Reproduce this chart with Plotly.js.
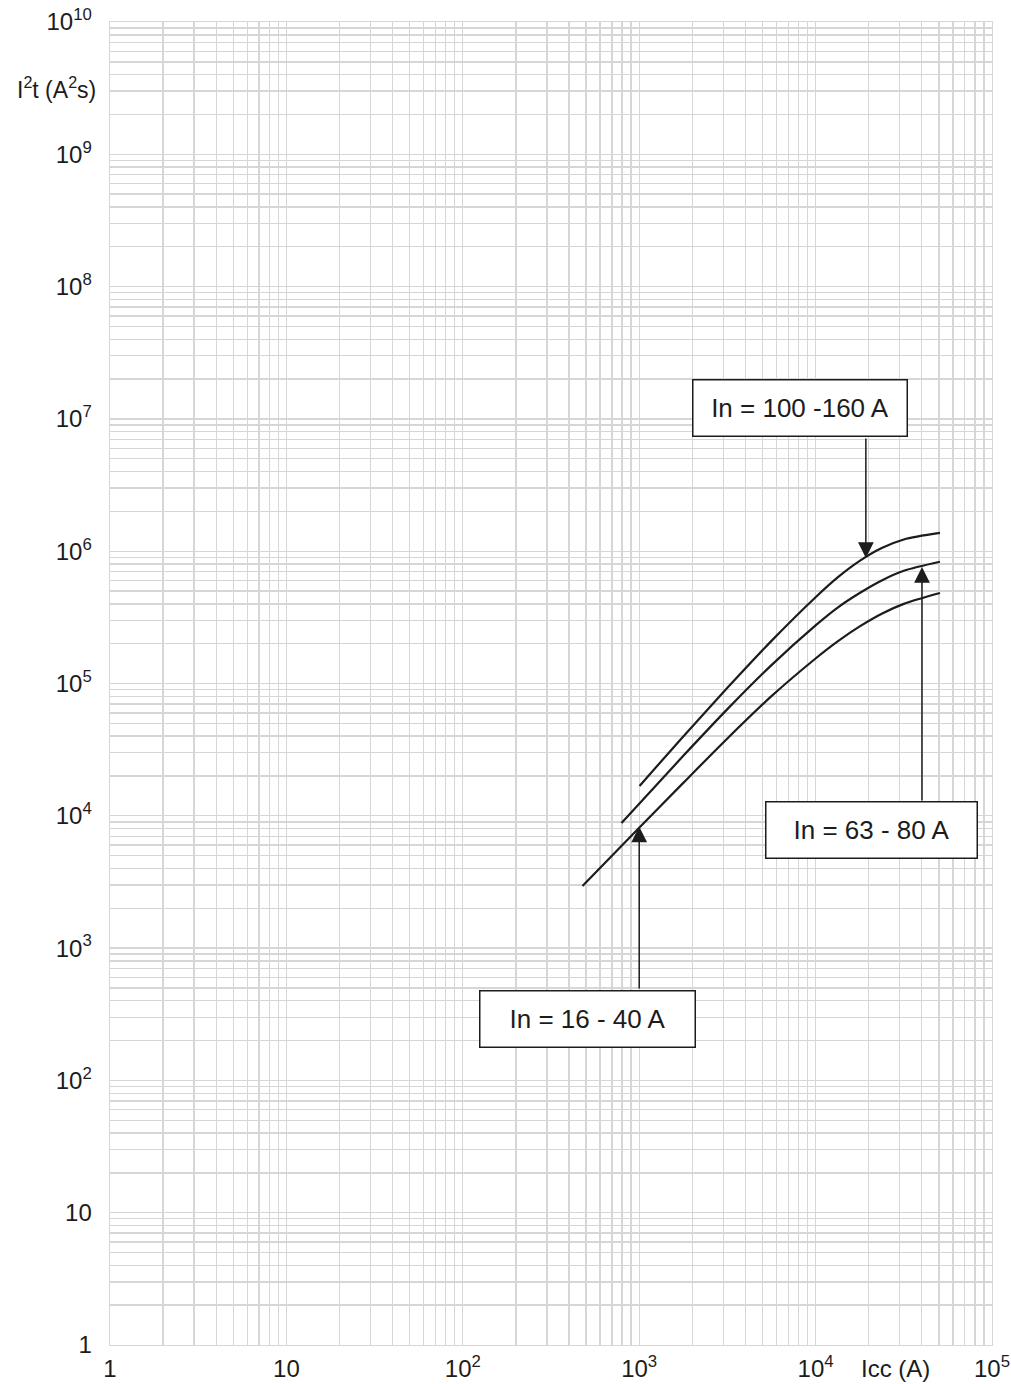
<!DOCTYPE html>
<html>
<head>
<meta charset="utf-8">
<script src="https://cdn.plot.ly/plotly-3.0.1.min.js"></script>
<style>html,body{margin:0;padding:0;background:#fff;}#chart{width:1011px;height:1384px;}</style>
</head>
<body>
<div id="chart"></div>
<script>
// Curve data (Icc in A, I2t in A2s)
const icc_100_160 = [1005, 1778, 3162, 5623, 10000, 13340, 17780, 23710, 31620, 50700];
const i2t_100_160 = [1.68e4, 3.98e4, 9.27e4, 2.10e5, 4.49e5, 6.34e5, 8.45e5, 1.057e6, 1.227e6, 1.374e6];

const icc_63_80 = [794, 1778, 3162, 5623, 10000, 13340, 17780, 23710, 31620, 50700];
const i2t_63_80 = [8830, 2.84e4, 6.40e4, 1.377e5, 2.75e5, 3.75e5, 4.83e5, 6.01e5, 7.11e5, 8.32e5];

const icc_16_40 = [477, 1000, 1778, 3162, 5623, 10000, 13340, 17780, 23710, 31620, 50700];
const i2t_16_40 = [2944, 8110, 1.774e4, 3.84e4, 8.02e4, 1.545e5, 2.08e5, 2.70e5, 3.37e5, 4.0e5, 4.83e5];

// Tick labels
const xTickVals = [1, 10, 100, 1000, 10000, 100000];
const xTickText = ['1', '10', '10<sup>2</sup>', '10<sup>3</sup>', '10<sup>4</sup>', '10<sup>5</sup>'];
const yTickVals = [1, 10, 1e2, 1e3, 1e4, 1e5, 1e6, 1e7, 1e8, 1e9, 1e10];
const yTickText = ['1', '10', '10<sup>2</sup>', '10<sup>3</sup>', '10<sup>4</sup>', '10<sup>5</sup>',
  '10<sup>6</sup>', '10<sup>7</sup>', '10<sup>8</sup>', '10<sup>9</sup>', '10<sup>10</sup>'];

// Label boxes: text, centre (Icc, I2t)
const boxTexts = ['In = 100 -160 A', 'In = 63 - 80 A', 'In = 16 - 40 A'];
const boxIcc = [8185, 20840, 509];
const boxI2t = [1.21e7, 7810, 291];
const boxWidths = [213, 210, 214];

// Arrows: tail (on box edge) -> tip (on curve)
const arrowIcc = [19270, 40100, 1000];
const arrowTailI2t = [7.3e6, 1.27e4, 482];
const arrowTipI2t = [8.9e5, 7.6e5, 8300];

const FONT = '"Liberation Sans", Arial, sans-serif';
const INK = '#1c1c1c';
const GRID = '#d6d6d6';

const lineStyle = {color: INK, width: 2.2, shape: 'spline', smoothing: 0.8};
const traces = [
  {x: icc_100_160, y: i2t_100_160, mode: 'lines', line: lineStyle, hoverinfo: 'skip'},
  {x: icc_63_80, y: i2t_63_80, mode: 'lines', line: lineStyle, hoverinfo: 'skip'},
  {x: icc_16_40, y: i2t_16_40, mode: 'lines', line: lineStyle, hoverinfo: 'skip'}
];

const annotations = [];
for (let i = 0; i < boxTexts.length; i++) {
  annotations.push({
    x: Math.log10(boxIcc[i]), y: Math.log10(boxI2t[i]), xref: 'x', yref: 'y',
    text: boxTexts[i], showarrow: false,
    font: {family: FONT, size: 26, color: INK},
    bgcolor: '#ffffff', bordercolor: INK, borderwidth: 1.5, borderpad: 0,
    width: boxWidths[i], height: 55, xanchor: 'center', yanchor: 'middle', align: 'center'
  });
  annotations.push({
    x: Math.log10(arrowIcc[i]), y: Math.log10(arrowTipI2t[i]), xref: 'x', yref: 'y',
    ax: Math.log10(arrowIcc[i]), ay: Math.log10(arrowTailI2t[i]), axref: 'x', ayref: 'y',
    text: '', showarrow: true, arrowhead: 2, arrowsize: 2.1, arrowwidth: 1.5, arrowcolor: INK,
    standoff: 0, startstandoff: 0
  });
}
annotations.push({
  xref: 'paper', yref: 'paper', x: -0.0136, y: 0.950, xanchor: 'right', yanchor: 'middle',
  text: 'I<sup>2</sup>t (A<sup>2</sup>s)', showarrow: false, font: {family: FONT, size: 23, color: INK}
});
annotations.push({
  xref: 'paper', yref: 'paper', x: 0.891, y: -0.0174, xanchor: 'center', yanchor: 'middle',
  text: 'Icc (A)', showarrow: false, font: {family: FONT, size: 24, color: INK}
});

const layout = {
  width: 1011, height: 1384,
  margin: {l: 110, r: 19, t: 22, b: 39, pad: 0},
  paper_bgcolor: '#ffffff', plot_bgcolor: '#ffffff',
  showlegend: false,
  font: {family: FONT, size: 24, color: INK},
  xaxis: {
    type: 'log', range: [0, 5], tickmode: 'array', tickvals: xTickVals, ticktext: xTickText,
    showgrid: true, gridcolor: GRID, gridwidth: 1.4,
    minor: {showgrid: true, gridcolor: GRID, gridwidth: 1.4, dtick: 'D1'},
    showline: true, linecolor: GRID, linewidth: 1.4, mirror: true, zeroline: false,
    ticks: 'outside', ticklen: 2, tickcolor: 'rgba(0,0,0,0)',
    tickfont: {family: FONT, size: 24, color: INK}
  },
  yaxis: {
    type: 'log', range: [0, 10], tickmode: 'array', tickvals: yTickVals, ticktext: yTickText,
    showgrid: true, gridcolor: GRID, gridwidth: 1.4,
    minor: {showgrid: true, gridcolor: GRID, gridwidth: 1.4, dtick: 'D1'},
    showline: true, linecolor: GRID, linewidth: 1.4, mirror: true, zeroline: false,
    ticks: 'outside', ticklen: 12, tickcolor: 'rgba(0,0,0,0)',
    tickfont: {family: FONT, size: 24, color: INK}
  },
  annotations: annotations
};

Plotly.newPlot('chart', traces, layout, {staticPlot: true, displayModeBar: false});
</script>
</body>
</html>
